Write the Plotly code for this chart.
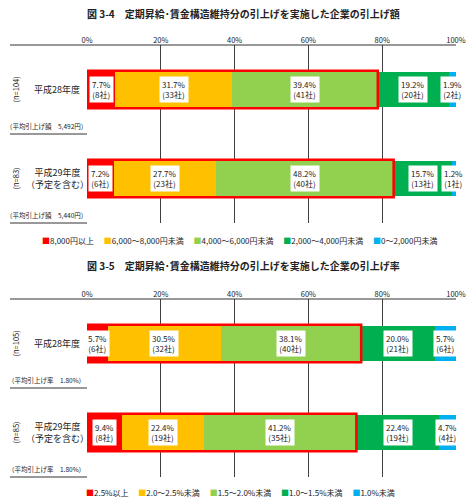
import plotly.graph_objects as go

# 図3-4 引上げ額
amount_categories = ["8,000円以上", "6,000～8,000円未満", "4,000～6,000円未満", "2,000～4,000円未満", "0～2,000円未満"]
amount_pct_h28 = [7.7, 31.7, 39.4, 19.2, 1.9]
amount_cnt_h28 = [8, 33, 41, 20, 2]
amount_pct_h29 = [7.2, 27.7, 48.2, 15.7, 1.2]
amount_cnt_h29 = [6, 23, 40, 13, 1]

# 図3-5 引上げ率
rate_categories = ["2.5%以上", "2.0～2.5%未満", "1.5～2.0%未満", "1.0～1.5%未満", "1.0%未満"]
rate_pct_h28 = [5.7, 30.5, 38.1, 20.0, 5.7]
rate_cnt_h28 = [6, 32, 40, 21, 6]
rate_pct_h29 = [9.4, 22.4, 41.2, 22.4, 4.7]
rate_cnt_h29 = [8, 19, 35, 19, 4]

tick_vals = [0, 20, 40, 60, 80, 100]
tick_text = ["0%", "20%", "40%", "60%", "80%", "100%"]
colors = ["#FF0000", "#FFC000", "#92D050", "#00B050", "#00B0F0"]
row_labels = ["平成28年度", "平成29年度<br>（予定を含む）"]
amount_n = ["(n=104)", "(n=83)"]
rate_n = ["(n=105)", "(n=85)"]
amount_avg = ["（平均引上げ額　5,492円）", "（平均引上げ額　5,440円）"]
rate_avg = ["（平均引上げ率　1.80%）", "（平均引上げ率　1.80%）"]

W, H = 475, 502
FONT = "Noto Sans CJK JP"


def px(p):
    return p / W


def py(p):
    return 1 - p / H


fig = go.Figure()
annotations = []
shapes = []

charts = [
    dict(ax="", title="図 3-4　定期昇給･賃金構造維持分の引上げを実施した企業の引上げ額",
         cats=amount_categories, pct=[amount_pct_h28, amount_pct_h29], cnt=[amount_cnt_h28, amount_cnt_h29],
         n=amount_n, avg=amount_avg, top=45, bottom=223, title_y=14, legend_y=240),
    dict(ax="2", title="図 3-5　定期昇給･賃金構造維持分の引上げを実施した企業の引上げ率",
         cats=rate_categories, pct=[rate_pct_h28, rate_pct_h29], cnt=[rate_cnt_h28, rate_cnt_h29],
         n=rate_n, avg=rate_avg, top=299, bottom=477, title_y=265, legend_y=492),
]

for ch in charts:
    xa, ya = "x" + ch["ax"], "y" + ch["ax"]
    for i, cat in enumerate(ch["cats"]):
        fig.add_trace(go.Bar(
            y=[0, 1], x=[ch["pct"][0][i], ch["pct"][1][i]], orientation="h",
            name=cat, marker=dict(color=colors[i], line=dict(width=0)),
            width=0.4, showlegend=False, xaxis=xa, yaxis=ya, hoverinfo="skip",
        ))

    row_h = (ch["bottom"] - ch["top"]) / 2
    for r in range(2):
        vals, cnts = ch["pct"][r], ch["cnt"][r]
        cum = 0
        for v, c in zip(vals, cnts):
            annotations.append(dict(
                x=cum + v / 2, y=r, xref=xa, yref=ya, showarrow=False, xanchor="center",
                text=f"{v:.1f}%<br>({c}社)", bgcolor="white", borderpad=2,
                font=dict(size=8, color="#222"),
            ))
            cum += v
        # red frame around first three segments
        shapes.append(dict(type="rect", xref=xa, yref=ya, x0=0, x1=sum(vals[:3]),
                           y0=-0.21 + r, y1=0.21 + r, line=dict(color="#FF0000", width=2.5)))
        cy = ch["top"] + row_h * (r + 0.5)
        annotations.append(dict(x=px(57), y=py(cy), xref="paper", yref="paper", showarrow=False,
                                xanchor="center", yanchor="middle",
                                text=row_labels[r], font=dict(size=9, color="#222")))
        annotations.append(dict(x=px(15), y=py(cy), xref="paper", yref="paper", showarrow=False,
                                xanchor="center", yanchor="middle",
                                text=ch["n"][r], textangle=-90, font=dict(size=7.5, color="#222")))
        annotations.append(dict(x=px(46), y=py(ch["top"] + row_h * (r + 1) - 8), xref="paper", yref="paper",
                                xanchor="center", yanchor="middle",
                                showarrow=False, text=ch["avg"][r], font=dict(size=6.5, color="#222")))

    # table lines
    shapes.append(dict(type="line", xref="paper", yref="paper", x0=px(10), x1=px(456),
                       y0=py(ch["top"]), y1=py(ch["top"]), line=dict(color="#333", width=1)))
    for yy in (ch["top"] + row_h, ch["bottom"]):
        shapes.append(dict(type="line", xref="paper", yref="paper", x0=px(10), x1=px(87),
                           y0=py(yy), y1=py(yy), line=dict(color="#333", width=1)))

    annotations.append(dict(x=px(244), y=py(ch["title_y"]), xref="paper", yref="paper", showarrow=False,
                            xanchor="center", yanchor="middle",
                            text="<b>" + ch["title"] + "</b>", font=dict(size=10, color="#222")))
    legend_txt = "　 ".join(f"<span style='color:{colors[i]}'>■</span>{c}" for i, c in enumerate(ch["cats"]))
    annotations.append(dict(x=px(240), y=py(ch["legend_y"]), xref="paper", yref="paper", showarrow=False,
                            xanchor="center", yanchor="middle",
                            text=legend_txt, font=dict(size=8, color="#222")))

xaxis_style = dict(range=[0, 100], tickvals=tick_vals, ticktext=tick_text, side="top",
                   showgrid=True, gridcolor="#404040", gridwidth=1, zeroline=False, showline=False,
                   automargin=False, ticks="", tickfont=dict(size=7.5, color="#222"),
                   domain=[px(87), px(456)], fixedrange=True)
yaxis_style = dict(range=[1.5, -0.5], showticklabels=False, showgrid=False, zeroline=False,
                   automargin=False, fixedrange=True)

fig.update_layout(
    width=W, height=H, margin=dict(l=0, r=0, t=0, b=0, pad=0), autosize=False,
    paper_bgcolor="white", plot_bgcolor="white",
    font=dict(family=FONT, color="#222"),
    barmode="stack", bargap=0,
    xaxis=dict(xaxis_style, anchor="y"),
    yaxis=dict(yaxis_style, domain=[py(223), py(45)], anchor="x"),
    xaxis2=dict(xaxis_style, anchor="y2"),
    yaxis2=dict(yaxis_style, domain=[py(477), py(299)], anchor="x2"),
    annotations=annotations, shapes=shapes,
)

# drop the default page margin / scrollbars so the figure sits at the window corner
fig.write_html("out.html", config={"displayModeBar": False},
               post_script="document.body.style.margin='0';document.body.style.overflow='hidden';")
